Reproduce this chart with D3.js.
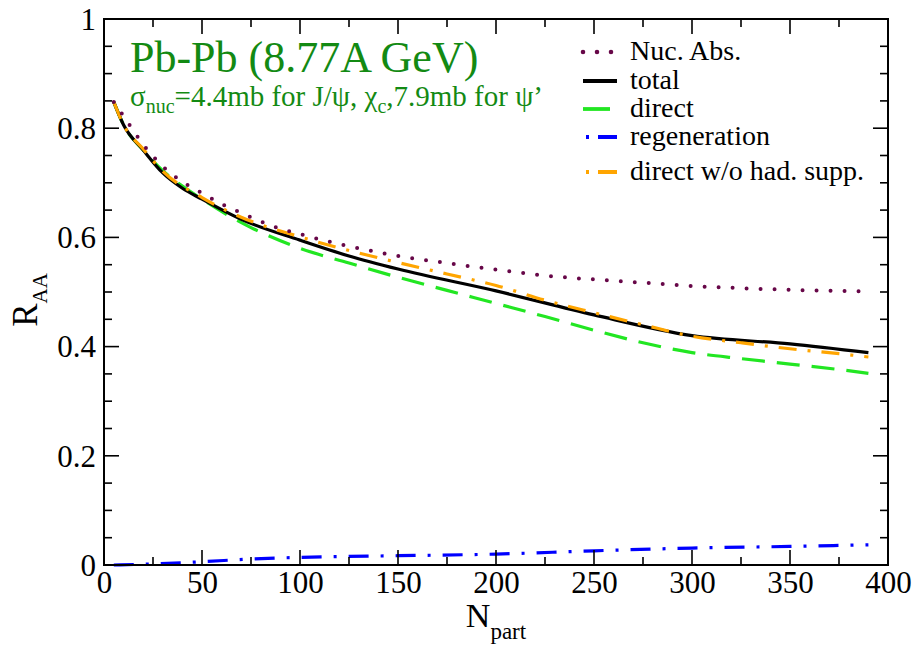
<!DOCTYPE html>
<html>
<head>
<meta charset="utf-8">
<script src="https://cdn.jsdelivr.net/npm/d3@7"></script>
<style>
  html, body { margin: 0; padding: 0; background: #fff; }
  svg { display: block; }
  text { font-family: "Liberation Serif", "DejaVu Serif", serif; }
</style>
</head>
<body>
<svg id="chart" width="914" height="646"></svg>
<script>
// N_part sample points and R_AA values for each curve
const nucAbsX = [5, 10, 20, 30, 40, 50, 60, 70, 85, 100, 125, 150, 175, 200, 225, 250, 275, 300, 325, 350, 375, 390];
const nucAbsY = [0.848, 0.822, 0.770, 0.730, 0.702, 0.681, 0.661, 0.645, 0.622, 0.606, 0.584, 0.566, 0.553, 0.541, 0.530, 0.523, 0.517, 0.511, 0.507, 0.504, 0.502, 0.501];

const totalX = [5, 10, 20, 30, 40, 50, 70, 100, 125, 150, 200, 250, 300, 350, 390];
const totalY = [0.848, 0.806, 0.760, 0.718, 0.690, 0.670, 0.633, 0.595, 0.566, 0.542, 0.502, 0.458, 0.420, 0.405, 0.389];

const directX = [5, 10, 20, 30, 40, 50, 65, 75, 100, 125, 150, 175, 200, 225, 250, 275, 300, 325, 350, 375, 390];
const directY = [0.848, 0.806, 0.760, 0.722, 0.694, 0.670, 0.637, 0.618, 0.580, 0.553, 0.527, 0.503, 0.479, 0.455, 0.430, 0.407, 0.389, 0.378, 0.368, 0.358, 0.351];

const regenX = [5, 25, 50, 75, 100, 150, 200, 250, 300, 350, 390];
const regenY = [0.000, 0.002, 0.006, 0.011, 0.014, 0.017, 0.020, 0.026, 0.031, 0.034, 0.037];

const noHadX = [5, 10, 20, 30, 50, 70, 100, 125, 150, 175, 200, 225, 250, 275, 300, 325, 350, 375, 390];
const noHadY = [0.848, 0.806, 0.762, 0.721, 0.673, 0.637, 0.601, 0.576, 0.554, 0.533, 0.512, 0.485, 0.462, 0.440, 0.419, 0.407, 0.396, 0.387, 0.381];

const xTickLabels = [0, 50, 100, 150, 200, 250, 300, 350, 400];
const yTickLabels = [0, 0.2, 0.4, 0.6, 0.8, 1];

const seriesNames = ["Nuc. Abs.", "total", "direct", "regeneration", "direct w/o had. supp."];

const svg = d3.select("#chart");
const plotL = 104, plotR = 888, plotT = 19, plotB = 565;

const x = d3.scaleLinear().domain([0, 400]).range([plotL, plotR]);
const y = d3.scaleLinear().domain([0, 1]).range([plotB, plotT]);

// series styling
const styles = [
  { color: "#670748", width: 4, dash: "0,14", cap: "round" },
  { color: "#000000", width: 3.2, dash: null, cap: "butt" },
  { color: "#22e622", width: 3.2, dash: "23,12", cap: "butt" },
  { color: "#0000ff", width: 3.2, dash: "20,12,3,12", cap: "butt" },
  { color: "#ffa500", width: 3.2, dash: "18,11,3,11", cap: "butt" }
];

const series = [
  d3.zip(nucAbsX, nucAbsY),
  d3.zip(totalX, totalY),
  d3.zip(directX, directY),
  d3.zip(regenX, regenY),
  d3.zip(noHadX, noHadY)
];

const line = d3.line().x(d => x(d[0])).y(d => y(d[1])).curve(d3.curveMonotoneX);

// curves: draw order so black sits beneath the orange dash-dot
const order = [2, 3, 1, 4, 0];
order.forEach(i => {
  const s = styles[i];
  svg.append("path")
    .datum(series[i])
    .attr("d", line)
    .attr("fill", "none")
    .attr("stroke", s.color)
    .attr("stroke-width", s.width)
    .attr("stroke-linecap", s.cap)
    .attr("stroke-dasharray", s.dash);
});

// frame
svg.append("rect")
  .attr("x", plotL).attr("y", plotT)
  .attr("width", plotR - plotL).attr("height", plotB - plotT)
  .attr("fill", "none").attr("stroke", "#000").attr("stroke-width", 2);

// ticks on all four sides, pointing inward
const frameTicks = svg.append("g").attr("stroke", "#000").attr("stroke-width", 1.6);
const xMajor = d3.range(0, 401, 50), xMinor = d3.range(25, 400, 50);
const yMajor = d3.range(0, 1.0001, 0.2);
const yMinor = d3.range(0.05, 1, 0.05).filter(v => Math.abs(v / 0.2 - Math.round(v / 0.2)) > 1e-6);
const majLen = 15, minLen = 8;
xMajor.concat(xMinor).forEach(v => {
  const len = xMajor.includes(v) ? majLen : minLen;
  frameTicks.append("line").attr("x1", x(v)).attr("x2", x(v)).attr("y1", plotB).attr("y2", plotB - len);
  frameTicks.append("line").attr("x1", x(v)).attr("x2", x(v)).attr("y1", plotT).attr("y2", plotT + len);
});
yMajor.concat(yMinor).forEach(v => {
  const len = yMinor.includes(v) ? minLen : majLen;
  frameTicks.append("line").attr("y1", y(v)).attr("y2", y(v)).attr("x1", plotL).attr("x2", plotL + len);
  frameTicks.append("line").attr("y1", y(v)).attr("y2", y(v)).attr("x1", plotR).attr("x2", plotR - len);
});

// tick labels via d3 axes (tick marks hidden, frame ticks drawn above)
const xAxis = d3.axisBottom(x).tickValues(xTickLabels).tickSize(0).tickPadding(0).tickFormat(d3.format("d"));
const gx = svg.append("g").attr("transform", `translate(0,${plotB})`).call(xAxis);
gx.select(".domain").remove();
gx.selectAll("text").attr("font-size", 31).attr("font-family", "Liberation Serif").attr("fill", "#000")
  .attr("dy", null).attr("y", 28);

const yAxis = d3.axisLeft(y).tickValues(yTickLabels).tickSize(0).tickPadding(0).tickFormat(d => d === 0 || d === 1 ? d3.format("d")(d) : d3.format(".1f")(d));
const gy = svg.append("g").attr("transform", `translate(${plotL},0)`).call(yAxis);
gy.select(".domain").remove();
gy.selectAll("text").attr("font-size", 31).attr("font-family", "Liberation Serif").attr("fill", "#000")
  .attr("x", -8).attr("dy", "0.33em");

// axis titles
const xt = svg.append("text").attr("x", x(200)).attr("y", 627).attr("text-anchor", "middle")
  .attr("font-size", 34).attr("fill", "#000");
xt.append("tspan").text("N");
xt.append("tspan").attr("font-size", 23).attr("dy", 12).text("part");

const yt = svg.append("text").attr("transform", "translate(37,300) rotate(-90)")
  .attr("text-anchor", "middle").attr("font-size", 35).attr("fill", "#000");
yt.append("tspan").text("R");
yt.append("tspan").attr("font-size", 21).attr("dy", 10).text("AA");

// annotation
const green = "#138a13";
svg.append("text").attr("x", 130).attr("y", 72).attr("font-size", 44).attr("fill", green)
  .text("Pb-Pb (8.77A GeV)");
const sub = svg.append("text").attr("x", 130).attr("y", 106).attr("font-size", 29).attr("fill", green);
sub.append("tspan").text("σ");
sub.append("tspan").attr("font-size", 20).attr("dy", 7).text("nuc");
sub.append("tspan").attr("dy", -7).text("=4.4mb for J/ψ, χ");
sub.append("tspan").attr("font-size", 20).attr("dy", 7).text("c");
sub.append("tspan").attr("dy", -7).text(",7.9mb for ψ’");

// legend
const legendRows = [52, 81, 109, 137, 172];
const lg = svg.append("g");
seriesNames.forEach((name, i) => {
  const s = styles[i];
  const yy = legendRows[i];
  let dash = s.dash;
  let x1 = 583, x2 = 617;
  if (i === 2) { dash = null; x2 = 610; }
  if (i === 3 || i === 4) { dash = "3,9,20,20"; x1 = 586; }
  lg.append("line").attr("x1", x1).attr("x2", x2).attr("y1", yy).attr("y2", yy)
    .attr("stroke", s.color).attr("stroke-width", s.width + 0.6)
    .attr("stroke-linecap", s.cap).attr("stroke-dasharray", dash);
  lg.append("text").attr("x", 630).attr("y", yy + 8).attr("font-size", 28).attr("fill", "#000").text(name);
});
</script>
</body>
</html>
